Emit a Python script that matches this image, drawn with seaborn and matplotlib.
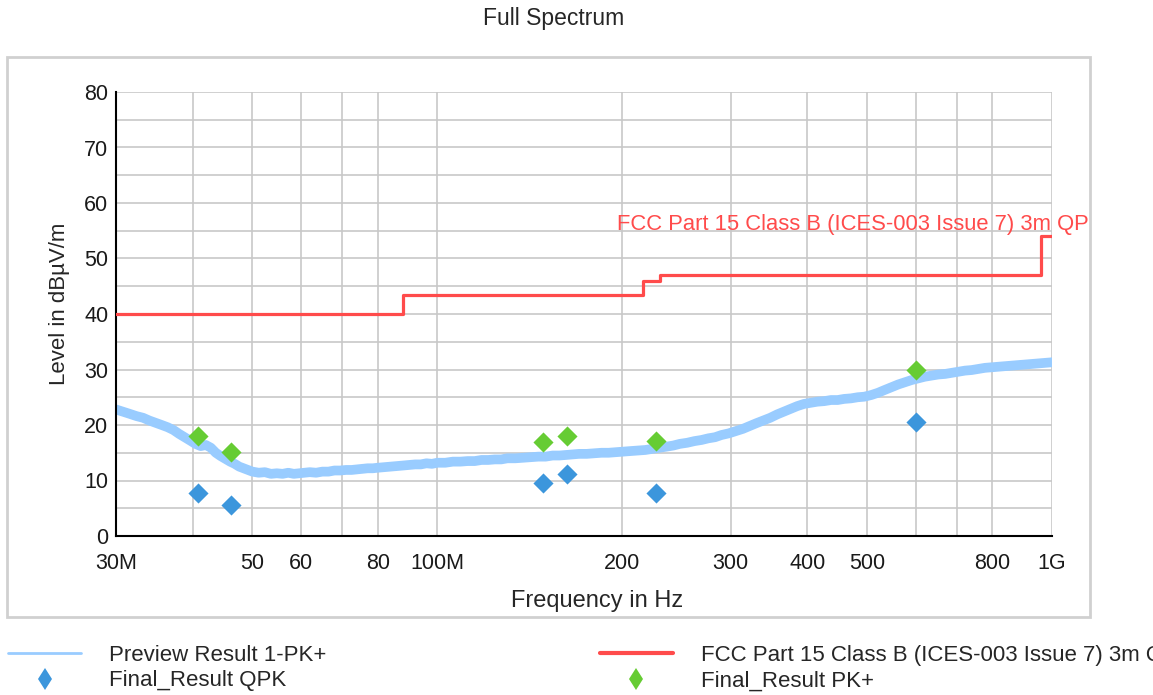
import matplotlib
matplotlib.use("Agg")
import matplotlib.pyplot as plt
from matplotlib.lines import Line2D
from matplotlib.patches import Rectangle
from matplotlib.ticker import FixedLocator, FixedFormatter, MultipleLocator, NullLocator
import seaborn as sns

# --- data (frequencies in MHz, levels in dBuV/m) ---
preview_freq = [
    30.0, 30.8, 31.6, 32.4, 33.2, 34.0, 34.8, 35.6, 36.4, 37.2,
    38.0, 38.8, 39.6, 40.4, 41.2, 42.0, 42.8, 43.6, 44.4, 45.2,
    46.0, 46.8, 47.6, 48.4, 49.2, 50.0, 51.2, 52.4, 53.6, 54.8,
    56.0, 57.2, 58.4, 59.6, 60.8, 62.0, 63.5, 65.0, 66.5, 68.0,
    69.5, 71.0, 72.5, 74.0, 75.5, 77.0, 78.5, 80.0, 82.0, 84.0,
    86.0, 88.0, 90.0, 92.0, 94.0, 96.0, 98.0, 100.0, 103.0, 106.0,
    109.0, 112.0, 115.0, 118.0, 121.0, 124.0, 127.0, 130.0, 134.0, 138.0,
    142.0, 146.0, 150.0, 154.0, 158.0, 162.0, 166.0, 170.0, 175.0, 180.0,
    185.0, 190.0, 195.0, 200.0, 206.0, 212.0, 218.0, 224.0, 230.0, 236.0,
    242.0, 248.0, 255.0, 262.0, 269.0, 276.0, 283.0, 290.0, 298.0, 306.0,
    314.0, 322.0, 330.0, 339.0, 348.0, 357.0, 366.0, 375.0, 385.0, 395.0,
    405.0, 415.0, 426.0, 437.0, 448.0, 459.0, 471.0, 483.0, 495.0, 508.0,
    521.0, 534.0, 548.0, 562.0, 576.0, 591.0, 606.0, 621.0, 637.0, 653.0,
    670.0, 687.0, 704.0, 722.0, 740.0, 759.0, 778.0, 798.0, 818.0, 839.0,
    860.0, 882.0, 904.0, 927.0, 950.0, 974.0, 1000.0,
]
preview_level = [
    22.8, 22.4, 22.0, 21.6, 21.3, 20.8, 20.4, 20.0, 19.6, 19.1,
    18.4, 17.8, 17.2, 16.6, 16.2, 16.4, 15.9, 15.0, 14.4, 13.9,
    13.4, 13.0, 12.5, 12.2, 11.9, 11.6, 11.4, 11.5, 11.2, 11.3,
    11.2, 11.4, 11.2, 11.3, 11.4, 11.5, 11.4, 11.6, 11.6, 11.8,
    11.8, 11.9, 11.9, 12.0, 12.1, 12.2, 12.2, 12.3, 12.4, 12.5,
    12.6, 12.7, 12.8, 12.9, 12.9, 13.1, 13.0, 13.2, 13.2, 13.4,
    13.4, 13.5, 13.5, 13.7, 13.7, 13.8, 13.8, 14.0, 14.0, 14.1,
    14.2, 14.3, 14.3, 14.5, 14.5, 14.6, 14.7, 14.8, 14.8, 14.9,
    15.0, 15.0, 15.1, 15.2, 15.3, 15.4, 15.5, 15.7, 15.9, 16.1,
    16.3, 16.6, 16.8, 17.1, 17.3, 17.6, 17.8, 18.2, 18.5, 18.9,
    19.3, 19.8, 20.3, 20.8, 21.3, 21.9, 22.4, 22.9, 23.4, 23.8,
    24.0, 24.2, 24.3, 24.5, 24.5, 24.7, 24.8, 25.0, 25.1, 25.4,
    25.8, 26.3, 26.8, 27.3, 27.7, 28.1, 28.4, 28.7, 28.9, 29.1,
    29.2, 29.4, 29.6, 29.8, 29.9, 30.1, 30.3, 30.4, 30.5, 30.6,
    30.7, 30.8, 30.9, 31.0, 31.1, 31.2, 31.3,
]

limit_freq = [30, 88, 216, 230, 960, 1000]
limit_level = [40, 43.5, 46, 47, 54, 54]

final_freq = [40.8, 46.2, 148.6, 162.5, 226.8, 600.0]
final_qpk = [7.8, 5.6, 9.5, 11.2, 7.8, 20.5]
final_pk = [18.0, 15.1, 17.0, 18.0, 17.1, 29.9]

xtick_pos = [30, 40, 50, 60, 70, 80, 100, 200, 300, 400, 500, 600, 700, 800, 1000]
xtick_labels = ['30M', '', '50', '60', '', '80', '100M', '200', '300', '400', '500', '', '', '800', '1G']

limit_name = 'FCC Part 15 Class B (ICES-003 Issue 7) 3m QP'

c_preview = '#99CCFF'
c_limit = '#FF4B4B'
c_qpk = '#3C96DC'
c_pk = '#66CC33'

sns.set_style("white")
plt.rcParams['font.family'] = ['Liberation Sans', 'DejaVu Sans']

fig = plt.figure(figsize=(11.53, 6.95), dpi=100)
W, H = 1153, 695
ax = fig.add_axes([116 / W, 1 - 536 / H, (1052 - 116) / W, (536 - 92) / H])

sns.lineplot(x=preview_freq, y=preview_level, ax=ax, color=c_preview, lw=7,
             estimator=None, sort=False, zorder=2)
sns.lineplot(x=limit_freq, y=limit_level, ax=ax, color=c_limit, lw=2.3,
             drawstyle='steps-post', estimator=None, zorder=3)
sns.scatterplot(x=final_freq, y=final_qpk, ax=ax, marker='D', s=105, color=c_qpk,
                linewidth=0, zorder=5)
sns.scatterplot(x=final_freq, y=final_pk, ax=ax, marker='D', s=105, color=c_pk,
                linewidth=0, zorder=5)

ax.set_xscale('log')
ax.set_xlim(30, 1000)
ax.set_ylim(0, 80)
ax.xaxis.set_major_locator(FixedLocator(xtick_pos))
ax.xaxis.set_major_formatter(FixedFormatter(xtick_labels))
ax.xaxis.set_minor_locator(NullLocator())
ax.yaxis.set_major_locator(MultipleLocator(10))
ax.yaxis.set_minor_locator(MultipleLocator(5))
ax.set_axisbelow(True)
ax.grid(True, which='both', color='#C8C8C8', lw=1.2)

for s in ['top', 'right']:
    ax.spines[s].set_visible(False)
for s in ['left', 'bottom']:
    ax.spines[s].set_color('black')
    ax.spines[s].set_linewidth(1.5)
ax.tick_params(which='both', direction='inout', length=9, width=1.5, color='black',
               labelsize=15.5, labelcolor='#1a1a1a')
ax.tick_params(axis='x', pad=8)
ax.tick_params(axis='y', pad=1)
ax.set_xlabel('')
ax.set_ylabel('')

ax.text(196, 56.2, limit_name, color=c_limit, fontsize=15.8, va='center', ha='left',
        clip_on=False)

fig.text(554 / W, 1 - 19 / H, 'Full Spectrum', ha='center', va='center', fontsize=16.5)
fig.text(597 / W, 1 - 601 / H, 'Frequency in Hz', ha='center', va='center', fontsize=17)
fig.text(60 / W, 1 - 304 / H, 'Level in dBµV/m', ha='center', va='center',
         rotation=90, fontsize=16)

fig.add_artist(Rectangle((7 / W, 1 - 617 / H), (1090 - 7) / W, (617 - 57) / H,
                         transform=fig.transFigure, fill=False, ec='#D0D0D0', lw=2))

handles = [
    Line2D([], [], color=c_preview, lw=2),
    Line2D([], [], color=c_qpk, marker='d', ls='none', ms=11.5, mew=0),
    Line2D([], [], color=c_limit, lw=3),
    Line2D([], [], color=c_pk, marker='d', ls='none', ms=11.5, mew=0),
]
labels = ['Preview Result 1-PK+', 'Final_Result QPK', limit_name, 'Final_Result PK+']
fig.legend(handles, labels, loc='upper left', bbox_to_anchor=(8 / W, 1 - 645 / H),
           ncol=2, frameon=False, fontsize=16, handlelength=3.3, handletextpad=1.25,
           columnspacing=12.3, labelspacing=0.2, borderpad=0, borderaxespad=0)

fig.savefig('out.png', dpi=100)
